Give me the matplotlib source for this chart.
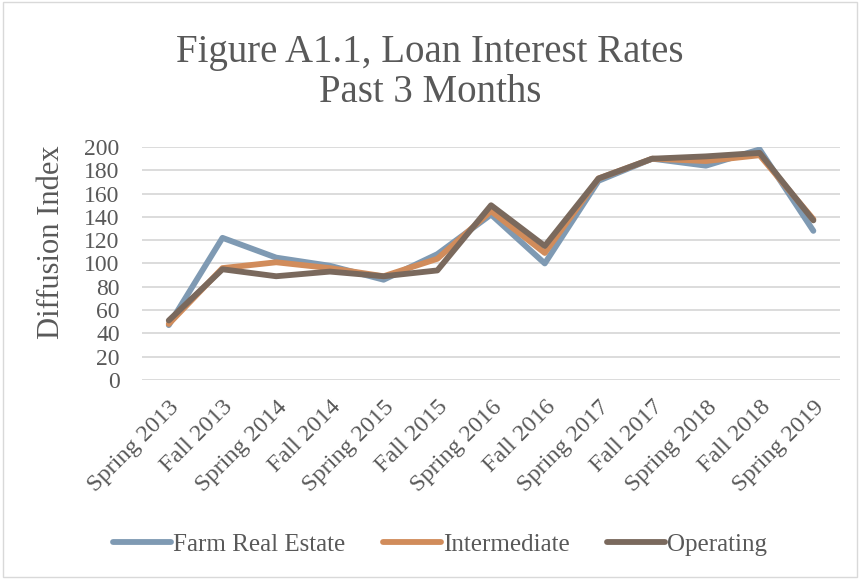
import matplotlib.pyplot as plt
import numpy as np

periods = ['Spring 2013', 'Fall 2013', 'Spring 2014', 'Fall 2014', 'Spring 2015',
           'Fall 2015', 'Spring 2016', 'Fall 2016', 'Spring 2017', 'Fall 2017',
           'Spring 2018', 'Fall 2018', 'Spring 2019']
farm_real_estate = [47, 122, 105, 98, 86, 108, 142, 100, 171, 190, 184, 198, 128]
intermediate = [48, 96, 101, 96, 89, 104, 145, 109, 173, 190, 188, 193, 138]
operating = [51, 95, 89, 93, 89, 94, 150, 115, 173, 190, 192, 195, 137]

plt.rcParams['font.family'] = ['Liberation Serif', 'DejaVu Serif']
text_col = '#595959'

fig = plt.figure(figsize=(8.6, 5.79), dpi=100)
ax = fig.add_axes([0.165, 0.344, 0.812, 0.402])

x = np.arange(len(periods))
lw = 4.2
ax.plot(x, farm_real_estate, color='#7f9ab3', lw=lw, label='Farm Real Estate', solid_capstyle='round')
ax.plot(x, intermediate, color='#d18c5b', lw=lw, label='Intermediate', solid_capstyle='round')
ax.plot(x, operating, color='#7a695d', lw=lw, label='Operating', solid_capstyle='round')

ax.set_xlim(-0.5, len(periods) - 0.5)
ax.set_ylim(0, 200)
ax.set_yticks(range(0, 201, 20))
ax.set_xticks(x)
ax.set_xticklabels(periods, rotation=45, ha='right', rotation_mode='anchor')
ax.tick_params(length=0, labelsize=17, colors=text_col)
ax.tick_params(axis='y', pad=16)
ax.tick_params(axis='x', labelsize=17.5, pad=12)
ax.grid(axis='y', color='#d9d9d9', lw=1.3)
ax.set_axisbelow(True)
for s in ax.spines.values():
    s.set_visible(False)

ax.set_ylabel('Diffusion Index', fontsize=22, color=text_col)
ax.yaxis.set_label_coords(-0.108, 0.59)
fig.text(0.5, 0.875, 'Figure A1.1, Loan Interest Rates\nPast 3 Months', ha='center', va='center',
         fontsize=28, color=text_col, linespacing=1.12)

fig.legend(loc='center', bbox_to_anchor=(0.512, 0.06), ncol=3, frameon=False, fontsize=18,
           labelcolor=text_col, handlelength=2.3, handletextpad=0.1, columnspacing=1.5)

border = plt.Rectangle((0.003, 0.003), 0.994, 0.994, transform=fig.transFigure,
                       fill=False, edgecolor='#d9d9d9', lw=1)
fig.add_artist(border)

fig.savefig('out.png', dpi=100)
